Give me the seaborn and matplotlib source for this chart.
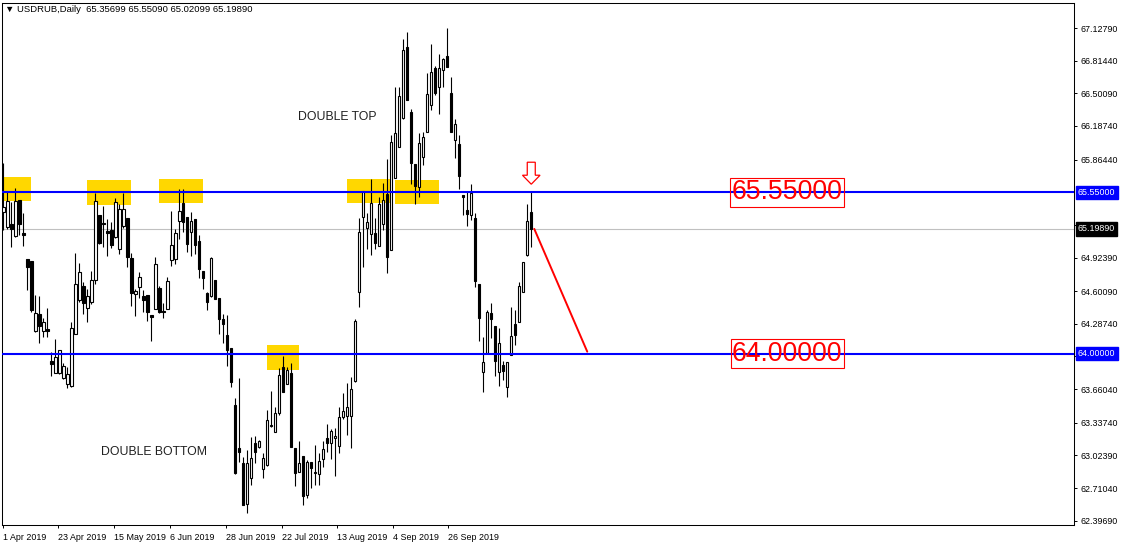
import numpy as np
import pandas as pd
import matplotlib
matplotlib.use("Agg")
import matplotlib.pyplot as plt
from matplotlib.patches import Rectangle, Polygon
import seaborn as sns

# USDRUB daily candles
opens = [65.365, 65.221, 65.250, 65.134, 65.480, 65.163, 64.914, 64.894, 64.222, 64.386,
         64.222, 64.242, 63.934, 63.819, 63.819, 63.771, 63.714, 63.694, 64.194, 64.520,
         64.654, 64.443, 64.501, 64.712, 65.336, 65.259, 65.182, 65.192, 65.125, 65.010,
         65.230, 65.307, 64.923, 64.578, 64.645, 64.558, 64.568, 64.376, 64.434, 64.635,
         64.414, 64.434, 64.904, 64.914, 65.278, 65.451, 65.317, 65.173, 65.298, 65.086,
         64.798, 64.587, 64.558, 64.712, 64.539, 64.338, 64.184, 64.059, 63.512, 63.099,
         62.955, 62.562, 62.811, 63.147, 63.109, 62.898, 62.936, 63.310, 63.253, 63.435,
         63.877, 63.714, 63.819, 63.099, 62.869, 63.022, 62.648, 62.965, 62.856, 62.850,
         62.994, 63.195, 63.147, 63.195, 63.118, 63.397, 63.406, 63.406, 63.742, 64.597,
         65.317, 65.211, 65.154, 65.163, 65.038, 65.250, 65.538, 65.000, 65.691, 65.989,
         66.267, 66.949, 66.325, 65.826, 65.605, 65.893, 66.133, 66.392, 66.747, 66.565,
         66.728, 66.862, 66.507, 66.056, 66.018, 65.528, 65.384, 65.336, 65.307, 64.674,
         63.829, 64.011, 64.395, 64.270, 63.829, 63.896, 63.685, 63.992, 64.290, 64.309,
         64.597, 64.952, 65.35699]
highs = [65.835, 65.557, 65.461, 65.595, 65.480, 65.355, 64.914, 64.894, 64.568, 64.558,
         64.347, 64.443, 64.021, 64.146, 64.040, 63.915, 63.877, 64.309, 64.971, 64.875,
         64.693, 64.626, 64.798, 65.547, 65.336, 65.422, 65.298, 65.269, 65.499, 65.442,
         65.547, 65.307, 64.971, 64.626, 64.789, 64.616, 64.568, 64.376, 64.933, 64.654,
         64.491, 64.741, 65.374, 65.202, 65.586, 65.586, 65.317, 65.365, 65.298, 65.144,
         64.798, 64.597, 64.933, 64.712, 64.539, 64.386, 64.376, 64.059, 63.579, 63.771,
         63.013, 63.080, 63.205, 63.214, 63.176, 63.051, 63.464, 63.646, 63.493, 63.867,
         63.982, 63.877, 63.915, 63.099, 63.166, 63.022, 62.984, 62.965, 63.128, 63.051,
         63.166, 63.330, 63.282, 63.291, 63.493, 63.627, 63.723, 63.781, 64.338, 65.307,
         65.566, 65.355, 65.682, 65.307, 65.509, 65.643, 65.874, 66.104, 66.565, 66.565,
         67.026, 67.093, 66.354, 65.826, 66.123, 66.133, 66.699, 66.978, 66.766, 66.882,
         66.843, 67.131, 66.661, 66.258, 66.104, 65.528, 65.557, 65.634, 65.355, 64.674,
         64.165, 64.424, 64.491, 64.270, 64.251, 63.934, 63.925, 64.453, 64.424, 64.693,
         64.885, 65.442, 65.55090]
lows = [65.192, 65.202, 65.029, 65.125, 65.144, 65.038, 64.616, 64.405, 64.213, 64.107,
        64.165, 64.165, 63.790, 63.819, 63.810, 63.762, 63.675, 63.685, 64.194, 64.501,
        64.386, 64.309, 64.482, 64.674, 65.058, 65.029, 64.942, 65.019, 65.115, 64.962,
        65.211, 64.837, 64.462, 64.366, 64.539, 64.405, 64.318, 64.126, 64.434, 64.395,
        64.347, 64.434, 64.846, 64.866, 65.106, 65.173, 64.981, 64.942, 64.962, 64.731,
        64.626, 64.424, 64.549, 64.530, 64.194, 64.107, 63.886, 63.685, 62.850, 62.965,
        62.552, 62.475, 62.744, 62.955, 63.099, 62.811, 62.926, 63.301, 63.253, 63.416,
        63.637, 63.714, 63.109, 62.734, 62.869, 62.552, 62.619, 62.715, 62.744, 62.744,
        62.917, 63.061, 62.994, 62.830, 63.051, 63.378, 63.224, 63.099, 63.733, 64.453,
        64.837, 65.010, 64.952, 65.010, 65.038, 65.192, 64.779, 65.000, 65.691, 65.989,
        66.258, 66.440, 65.634, 65.442, 65.509, 65.816, 66.133, 66.344, 66.488, 66.306,
        66.565, 66.757, 66.133, 65.883, 65.586, 65.336, 65.230, 65.288, 64.645, 64.126,
        63.637, 64.011, 64.155, 63.790, 63.694, 63.752, 63.589, 63.992, 64.088, 64.309,
        64.597, 64.942, 65.02099]
closes = [65.413, 65.470, 65.202, 65.470, 65.250, 65.144, 64.837, 64.424, 64.395, 64.270,
          64.309, 64.222, 63.906, 63.973, 64.040, 63.886, 63.810, 64.251, 64.674, 64.789,
          64.491, 64.558, 64.712, 65.470, 65.067, 65.250, 65.163, 65.048, 65.461, 65.394,
          65.394, 64.933, 64.587, 64.606, 64.741, 64.520, 64.405, 64.357, 64.866, 64.405,
          64.405, 64.702, 65.048, 65.163, 65.374, 65.269, 65.058, 65.278, 65.048, 64.818,
          64.731, 64.501, 64.923, 64.530, 64.338, 64.290, 64.040, 63.733, 62.859, 63.061,
          62.552, 62.955, 63.003, 63.061, 63.166, 63.003, 63.368, 63.320, 63.435, 63.800,
          63.637, 63.848, 63.109, 62.859, 62.955, 62.638, 62.965, 62.907, 62.862, 62.974,
          63.090, 63.147, 63.262, 63.214, 63.397, 63.454, 63.493, 63.666, 64.318, 65.173,
          65.566, 65.269, 65.451, 65.067, 65.442, 65.480, 64.933, 66.037, 66.123, 66.478,
          66.920, 66.440, 65.835, 65.614, 66.027, 66.085, 66.498, 66.709, 66.507, 66.747,
          66.834, 66.757, 66.133, 66.210, 65.710, 65.509, 65.346, 65.547, 64.702, 64.347,
          63.925, 64.405, 64.338, 63.934, 64.107, 63.838, 63.925, 64.174, 64.184, 64.654,
          64.885, 65.278, 65.19890]

# levels and highlighted zones
resistance = 65.55
support = 64.00
zone_start = [-0.5, 20.9, 38.9, 65.9, 85.9, 97.9]
zone_end = [6.9, 31.85, 49.85, 73.9, 96.9, 108.9]
zone_low = [65.470, 65.432, 65.451, 63.848, 65.451, 65.442]
zone_high = [65.701, 65.672, 65.682, 64.088, 65.682, 65.672]
projection_x = [132.75, 146.0]
projection_y = [65.1989, 64.02]

# axis labels; the one at 65.5509 is fully hidden behind the level tag in the original
ytick_vals = [67.12790, 66.81440, 66.50090, 66.18740, 65.86440, 65.23740, 64.92390,
              64.60090, 64.28740, 63.97390, 63.66040, 63.33740, 63.02390, 62.71040, 62.39690]
xtick_pos = [0, 13.75, 27.75, 41.75, 55.6, 69.6, 83.5, 97.4, 111.25]
xtick_labels = ['1 Apr 2019', '23 Apr 2019', '15 May 2019', '6 Jun 2019', '28 Jun 2019',
                '22 Jul 2019', '13 Aug 2019', '4 Sep 2019', '26 Sep 2019']

sns.set_style("white")
plt.rcParams['font.family'] = ['Liberation Sans', 'DejaVu Sans']

df = pd.DataFrame({'open': opens, 'high': highs, 'low': lows, 'close': closes})
df['bar'] = np.arange(len(df))
bull = df['close'] >= df['open']
body_low = np.minimum(df['open'], df['close'])
body_h = np.maximum(np.abs(df['close'] - df['open']), 0.003)

fig = plt.figure(figsize=(11.25, 5.46), dpi=100)
ax = fig.add_axes([2 / 1125, 21 / 546, 1072 / 1125, 522 / 546])

for s, e, lo, hi in zip(zone_start, zone_end, zone_low, zone_high):
    ax.add_patch(Rectangle((s, lo), e - s, hi - lo, facecolor='#FFD700', edgecolor='none', zorder=1))

last_close = df['close'].iloc[-1]
ax.axhline(last_close, color='#C0C0C0', lw=0.8, zorder=2)

# candles
ax.vlines(df['bar'], df['low'], df['high'], color='black', lw=0.8, zorder=3)
ax.bar(df['bar'], body_h, bottom=body_low, width=0.6,
       color=np.where(bull, 'white', 'black'), edgecolor='black', linewidth=0.8, zorder=4)

ax.axhline(resistance, color='#0000FF', lw=1.5, zorder=5)
ax.axhline(support, color='#0000FF', lw=1.5, zorder=5)

sns.lineplot(x=projection_x, y=projection_y, color='red', lw=1.4, ax=ax, zorder=6)

# hollow arrow above the last candle
bx = df['bar'].iloc[-1]
tip = df['high'].iloc[-1] + 0.077
pp = 0.0096
arrow = [(bx - 1.0, tip + 22 * pp), (bx + 1.0, tip + 22 * pp), (bx + 1.0, tip + 9 * pp),
         (bx + 2.2, tip + 9 * pp), (bx, tip), (bx - 2.2, tip + 9 * pp), (bx - 1.0, tip + 9 * pp)]
ax.add_patch(Polygon(arrow, closed=True, facecolor='white', edgecolor='red', lw=0.9, zorder=6))

# level labels on the chart
for lvl in [resistance, support]:
    ax.text(196, lvl, f'{lvl:.5f}', color='red', fontsize=19.2, ha='center', va='center',
            bbox=dict(boxstyle='square,pad=0.05', fc='none', ec='red', lw=0.8), zorder=7)

ax.text(83.4, 66.273, 'DOUBLE TOP', fontsize=8.8, color='#202020', ha='center', va='center')
ax.text(37.7, 63.057, 'DOUBLE BOTTOM', fontsize=8.8, color='#202020', ha='center', va='center')

ax.set_xlim(-0.33, 267.7)
ax.set_ylim(62.3556, 67.368)

ax.yaxis.tick_right()
ax.set_yticks(ytick_vals)
ax.set_yticklabels([f'{v:.5f}' for v in ytick_vals])
ax.set_xticks(xtick_pos)
ax.set_xticklabels(xtick_labels, ha='left')
ax.tick_params(axis='y', which='both', right=True, left=False, length=2, width=0.7,
               pad=3, labelsize=6.4, colors='black')
ax.tick_params(axis='x', which='both', bottom=True, length=2.5, width=0.7,
               pad=3, labelsize=6.4, colors='black')
for sp in ax.spines.values():
    sp.set_color('black')
    sp.set_linewidth(0.75)
ax.set_xlabel('')
ax.set_ylabel('')

# price tags on the axis
for lvl, fc in [(resistance, '#0000FF'), (last_close, 'black'), (support, '#0000FF')]:
    ax.annotate(f'{lvl:.5f}', xy=(1, lvl), xycoords=('axes fraction', 'data'),
                xytext=(4, 0), textcoords='offset pixels', fontsize=6.4, color='white',
                ha='left', va='center', annotation_clip=False,
                bbox=dict(boxstyle='square,pad=0.25', fc=fc, ec=fc), zorder=8)

fig.text(5 / 1125, 1 - 10 / 546, '\u25bc USDRUB,Daily  65.35699 65.55090 65.02099 65.19890',
         fontsize=6.8, ha='left', va='center', color='black')

fig.savefig('out.png', dpi=100)
